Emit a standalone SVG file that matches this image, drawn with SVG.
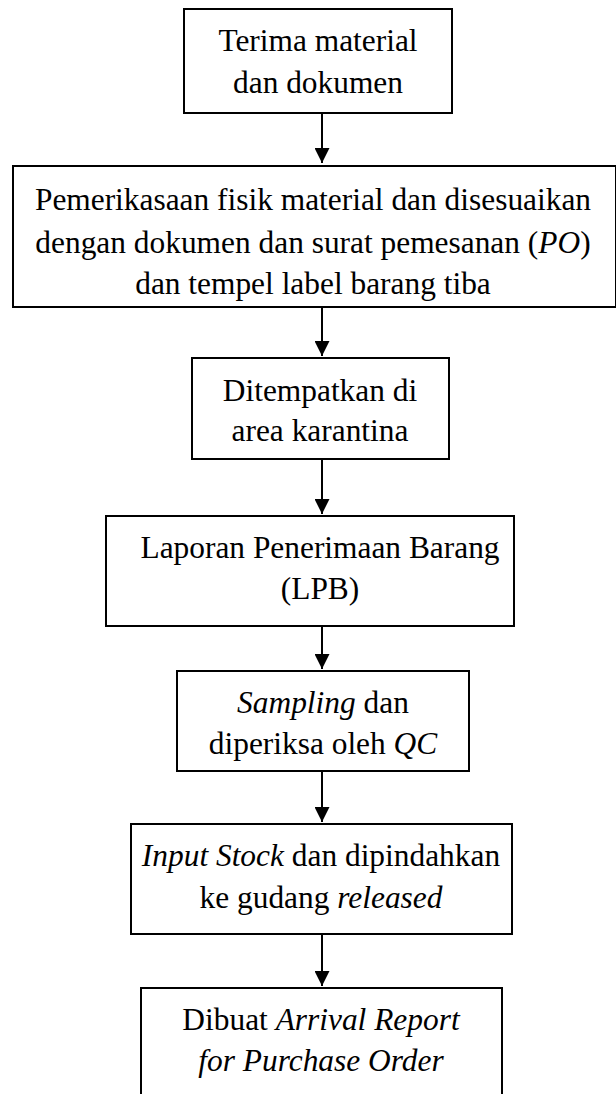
<svg xmlns="http://www.w3.org/2000/svg" width="616" height="1094" viewBox="0 0 616 1094">
  <style>
    .box { fill: #ffffff; stroke: #000000; stroke-width: 2; }
    .lbl { font-family: "Liberation Serif", "Times New Roman", serif; font-size: 31.4px; fill: #000000; text-anchor: middle; }
    .it { font-style: italic; }
    .link { stroke: #000000; stroke-width: 2; fill: none; marker-end: url(#head); }
  </style>
  <defs>
    <marker id="head" viewBox="0 0 15 15" refX="15" refY="7.5" markerWidth="15" markerHeight="15" markerUnits="userSpaceOnUse" orient="auto">
      <path d="M0,0 L15,7.5 L0,15 Z" fill="#000000"/>
    </marker>
  </defs>
  <rect width="616" height="1094" fill="#ffffff"/>

  <!-- connectors -->
  <g id="connectors">
    <line class="link" x1="322" y1="113" x2="322" y2="163"/>
    <line class="link" x1="322" y1="307" x2="322" y2="356"/>
    <line class="link" x1="322" y1="459" x2="322" y2="514"/>
    <line class="link" x1="322" y1="626" x2="322" y2="669"/>
    <line class="link" x1="322" y1="771" x2="322" y2="822"/>
    <line class="link" x1="322" y1="934" x2="322" y2="986"/>
  </g>

  <g id="terima">
    <rect class="box" x="184" y="9" width="268" height="104"/>
    <text class="lbl" x="318" y="51">Terima material</text>
    <text class="lbl" x="318" y="93">dan dokumen</text>
  </g>

  <g id="pemeriksaan">
    <rect class="box" x="13" y="166" width="603" height="141"/>
    <text class="lbl" x="313" y="210">Pemerikasaan fisik material dan disesuaikan</text>
    <text class="lbl" x="313" y="253">dengan dokumen dan surat pemesanan (<tspan class="it">PO</tspan>)</text>
    <text class="lbl" x="313" y="294">dan tempel label barang tiba</text>
  </g>

  <g id="karantina">
    <rect class="box" x="192" y="358" width="257" height="101"/>
    <text class="lbl" x="320" y="401">Ditempatkan di</text>
    <text class="lbl" x="320" y="441">area karantina</text>
  </g>

  <g id="lpb">
    <rect class="box" x="106" y="516" width="408" height="110"/>
    <text class="lbl" x="320" y="558">Laporan Penerimaan Barang</text>
    <text class="lbl" x="320" y="599">(LPB)</text>
  </g>

  <g id="sampling">
    <rect class="box" x="177" y="671" width="292" height="100"/>
    <text class="lbl" x="323" y="713"><tspan class="it">Sampling</tspan> dan</text>
    <text class="lbl" x="323" y="754">diperiksa oleh <tspan class="it">QC</tspan></text>
  </g>

  <g id="input-stock">
    <rect class="box" x="131" y="824" width="381" height="110"/>
    <text class="lbl" x="321" y="866"><tspan class="it">Input Stock</tspan> dan dipindahkan</text>
    <text class="lbl" x="321" y="908">ke gudang <tspan class="it">released</tspan></text>
  </g>

  <g id="arrival-report">
    <rect class="box" x="141" y="988" width="361" height="120"/>
    <text class="lbl" x="321" y="1030">Dibuat <tspan class="it">Arrival Report</tspan></text>
    <text class="lbl" x="321" y="1071"><tspan class="it">for Purchase Order</tspan></text>
  </g>
</svg>
